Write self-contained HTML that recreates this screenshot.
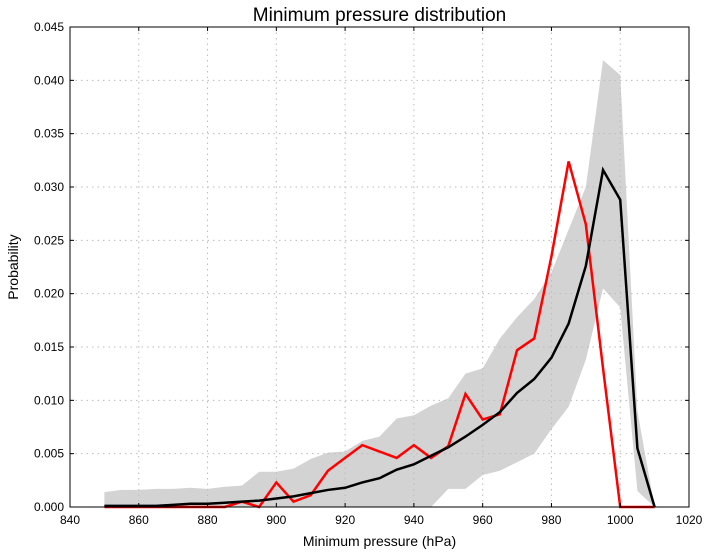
<!DOCTYPE html>
<html><head><meta charset="utf-8"><style>
body{margin:0;background:#fff;}
svg{display:block;font-family:"Liberation Sans",sans-serif;}
</style></head><body>
<svg id="chart" width="710" height="555"></svg>
<script>
const pressures=[850,855,860,865,870,875,880,885,890,895,900,905,910,915,920,925,930,935,940,945,950,955,960,965,970,975,980,985,990,995,1000,1005,1010];
const meanProb=[0.0001,0.0001,0.0001,0.0001,0.0002,0.0003,0.0003,0.0004,0.0005,0.0006,0.0008,0.001,0.0013,0.0016,0.0018,0.0023,0.0027,0.0035,0.004,0.0048,0.0056,0.0066,0.0077,0.0089,0.0107,0.012,0.014,0.0172,0.0226,0.0316,0.0288,0.0055,0.0];
const obsProb=[0,0,0,0,0,0,0,0,0.0005,0,0.0023,0.0005,0.0011,0.0034,0.0046,0.0058,0.0052,0.0046,0.0058,0.0046,0.0057,0.0106,0.0082,0.0087,0.0147,0.0158,0.0235,0.0324,0.0265,0.013,0,0,0];
const upperProb=[0.0014,0.0016,0.0016,0.0017,0.0017,0.0018,0.0017,0.0019,0.002,0.0033,0.0033,0.0036,0.0045,0.0051,0.0052,0.0062,0.0066,0.0083,0.0086,0.0095,0.0102,0.0125,0.013,0.0158,0.0178,0.0195,0.022,0.026,0.03,0.0419,0.0405,0.009,0];
const lowerProb=[0,0,0,0,0,0,0,0,0,0,0,0,0,0,0,0,0,0,0,0,0.0017,0.0017,0.003,0.0034,0.0042,0.005,0.0073,0.0094,0.0138,0.0205,0.0187,0.0015,0];
const xTicks=[840,860,880,900,920,940,960,980,1000,1020];
const yTicks=[0,0.005,0.01,0.015,0.02,0.025,0.03,0.035,0.04,0.045];

const L=70,R=689,T=27,B=507;
const xs=v=>L+(v-840)/180*(R-L);
const ys=v=>B-v/0.045*(B-T);
const svg=document.getElementById('chart');
const NS='http://www.w3.org/2000/svg';
function mk(tag,attrs,parent){const e=document.createElementNS(NS,tag);for(const k in attrs)e.setAttribute(k,attrs[k]);(parent||svg).appendChild(e);return e;}

// band
let pts=pressures.map((p,i)=>xs(p)+','+ys(upperProb[i]));
for(let i=pressures.length-1;i>=0;i--)pts.push(xs(pressures[i])+','+ys(lowerProb[i]));
const band=mk('polygon',{points:pts.join(' '),fill:'#d3d3d3'});



// grid
xTicks.forEach(t=>{if(t>840&&t<1020){const g=mk('line',{x1:xs(t),x2:xs(t),y1:T,y2:B,stroke:'#bbb','stroke-dasharray':'1.5,4'});}});
yTicks.forEach(t=>{if(t>0&&t<0.045){const g=mk('line',{x1:L,x2:R,y1:ys(t),y2:ys(t),stroke:'#bbb','stroke-dasharray':'1.5,4'});}});

const red=mk('polyline',{points:pressures.map((p,i)=>xs(p)+','+ys(obsProb[i])).join(' '),fill:'none',stroke:'#ff0000','stroke-width':2.5});


const blk=mk('polyline',{points:pressures.map((p,i)=>xs(p)+','+ys(meanProb[i])).join(' '),fill:'none',stroke:'#000','stroke-width':2.5});



const frame=mk('rect',{x:L,y:T,width:R-L,height:B-T,fill:'none',stroke:'#000','stroke-width':1});



xTicks.forEach(t=>{
  mk('line',{x1:xs(t),x2:xs(t),y1:B,y2:B-4,stroke:'#000'});
  mk('line',{x1:xs(t),x2:xs(t),y1:T,y2:T+4,stroke:'#000'});
  const tx=mk('text',{x:xs(t),y:B+17,'text-anchor':'middle','font-size':12});
  tx.textContent=t;
  
  
});
yTicks.forEach(t=>{
  mk('line',{x1:L,x2:L+4,y1:ys(t),y2:ys(t),stroke:'#000'});
  mk('line',{x1:R,x2:R-4,y1:ys(t),y2:ys(t),stroke:'#000'});
  const tx=mk('text',{x:L-6,y:ys(t)+4,'text-anchor':'end','font-size':12});
  tx.textContent=t.toFixed(3);
  
  
});
const title=mk('text',{x:(L+R)/2,y:21,'text-anchor':'middle','font-size':19});
title.textContent='Minimum pressure distribution';


const xl=mk('text',{x:(L+R)/2,y:546,'text-anchor':'middle','font-size':14});
xl.textContent='Minimum pressure (hPa)';


const yl=mk('text',{x:18,y:(T+B)/2,'text-anchor':'middle','font-size':14,transform:'rotate(-90 18 '+((T+B)/2)+')'});
yl.textContent='Probability';


</script>
</body></html>
